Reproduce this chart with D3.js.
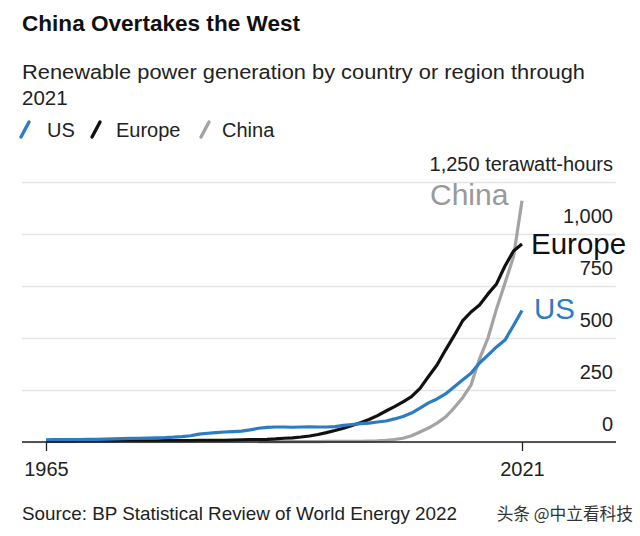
<!DOCTYPE html>
<html>
<head>
<meta charset="utf-8">
<script src="https://cdn.jsdelivr.net/npm/d3@7"></script>
<style>
html,body{margin:0;padding:0;background:#fff;}
svg{display:block;font-family:"Liberation Sans",Arial,sans-serif;}
</style>
</head>
<body>
<svg id="chart" width="640" height="536"></svg>
<script>
const years = d3.range(1965, 2022);
const usValues = [10,11,11,12,12,13,13,14,15,16,17,18,19,20,21,23,26,30,38,42,45,48,50,52,58,66,70,72,72,71,72,73,72,72,74,80,84,88,91,96,101,111,123,139,163,188,207,231,264,298,330,380,418,457,490,560,632];
const europeValues = [4,4,4,4,5,5,5,5,5,6,6,6,6,6,7,7,7,7,8,8,8,8,9,10,11,12,13,15,18,20,24,29,36,45,55,66,79,93,108,127,149,170,193,218,258,315,370,442,510,582,625,659,712,760,846,918,952];
const chinaYears = d3.range(1990, 2022);
const chinaValues = [2,2,2,2,2,2,2,2,3,3,3,3,3,4,5,8,12,18,30,48,67,91,120,163,212,274,400,500,640,764,890,1160];
const yTicks = [0,250,500,750,1000,1250];
const xTicks = [1965,2021];
const seriesNames = ["US","Europe","China"];
const seriesColors = ["#2b7cc4","#111111","#a3a3a3"];

const svg = d3.select("#chart");
const x = d3.scaleLinear().domain([1965,2021]).range([46,522]);
const y = d3.scaleLinear().domain([0,1250]).range([442,182]);

// Title, subtitle
svg.append("text").attr("x",22).attr("y",31).attr("font-size",22.5).attr("font-weight","bold").attr("fill","#111")
  .attr("textLength",278).attr("lengthAdjust","spacingAndGlyphs").text("China Overtakes the West");
svg.append("text").attr("x",22).attr("y",79).attr("font-size",20.5).attr("fill","#222")
  .attr("textLength",563).attr("lengthAdjust","spacingAndGlyphs").text("Renewable power generation by country or region through");
svg.append("text").attr("x",22).attr("y",105).attr("font-size",20.5).attr("fill","#222").text("2021");

// Legend
const legendX = [25,96,205];
const legendLabelX = [47,116,222];
seriesNames.forEach((n,i)=>{
  svg.append("line").attr("x1",legendX[i]-4).attr("y1",137).attr("x2",legendX[i]+4).attr("y2",122)
    .attr("stroke",seriesColors[i]).attr("stroke-width",3.4).attr("stroke-linecap","round");
  svg.append("text").attr("x",legendLabelX[i]).attr("y",137).attr("font-size",20).attr("fill","#222").text(n);
});

// Y axis gridlines + labels
const yAxis = d3.axisLeft(y).tickValues(yTicks).tickSize(594)
  .tickFormat(d => d===1250 ? "1,250 terawatt-hours" : d3.format(",")(d));
const gy = svg.append("g").attr("transform","translate(616,0)").call(yAxis);
gy.select(".domain").remove();
gy.selectAll(".tick line").attr("stroke","#e4e4e4").attr("stroke-width",1.3);
gy.selectAll(".tick text").attr("x",-3).attr("dy",-12).attr("font-size",20).attr("fill","#222")
  .attr("font-family","'Liberation Sans',Arial,sans-serif");

// Lines
const line = d3.line().x(d=>x(d[0])).y(d=>y(d[1]));
const seriesData = [
  years.map((yr,i)=>[yr,usValues[i]]),
  years.map((yr,i)=>[yr,europeValues[i]]),
  chinaYears.map((yr,i)=>[yr,chinaValues[i]])
];
[2,1,0].forEach(i=>{
  svg.append("path").datum(seriesData[i]).attr("d",line).attr("fill","none")
    .attr("stroke",seriesColors[i]).attr("stroke-width",3.2).attr("stroke-linejoin","round");
});

// Baseline and x axis
svg.append("line").attr("x1",22).attr("x2",616).attr("y1",y(0)).attr("y2",y(0)).attr("stroke","#222").attr("stroke-width",1.3);
const xAxis = d3.axisBottom(x).tickValues(xTicks).tickFormat(d3.format("d")).tickSize(9).tickPadding(11);
const gx = svg.append("g").attr("transform",`translate(0,${y(0)})`).call(xAxis);
gx.select(".domain").remove();
gx.selectAll(".tick line").attr("stroke","#222").attr("stroke-width",1.3);
gx.selectAll(".tick text").attr("font-size",20).attr("fill","#222").attr("font-family","'Liberation Sans',Arial,sans-serif");

// Series labels
svg.append("text").attr("x",430).attr("y",205).attr("font-size",30).attr("fill","#999").text("China");
svg.append("text").attr("x",531).attr("y",254).attr("font-size",29.5).attr("fill","#111").text("Europe");
svg.append("text").attr("x",534).attr("y",319).attr("font-size",29.5).attr("fill","#2b7cc4").text("US");

// Source and watermark
svg.append("text").attr("x",22).attr("y",520).attr("font-size",19).attr("fill","#222")
  .attr("textLength",435).attr("lengthAdjust","spacingAndGlyphs").text("Source: BP Statistical Review of World Energy 2022");
svg.append("text").attr("x",633).attr("y",520).attr("text-anchor","end").attr("font-size",16.7).attr("fill","#333")
  .attr("font-family","'Noto Sans CJK SC',sans-serif").text("头条 @中立看科技");
</script>
</body>
</html>
